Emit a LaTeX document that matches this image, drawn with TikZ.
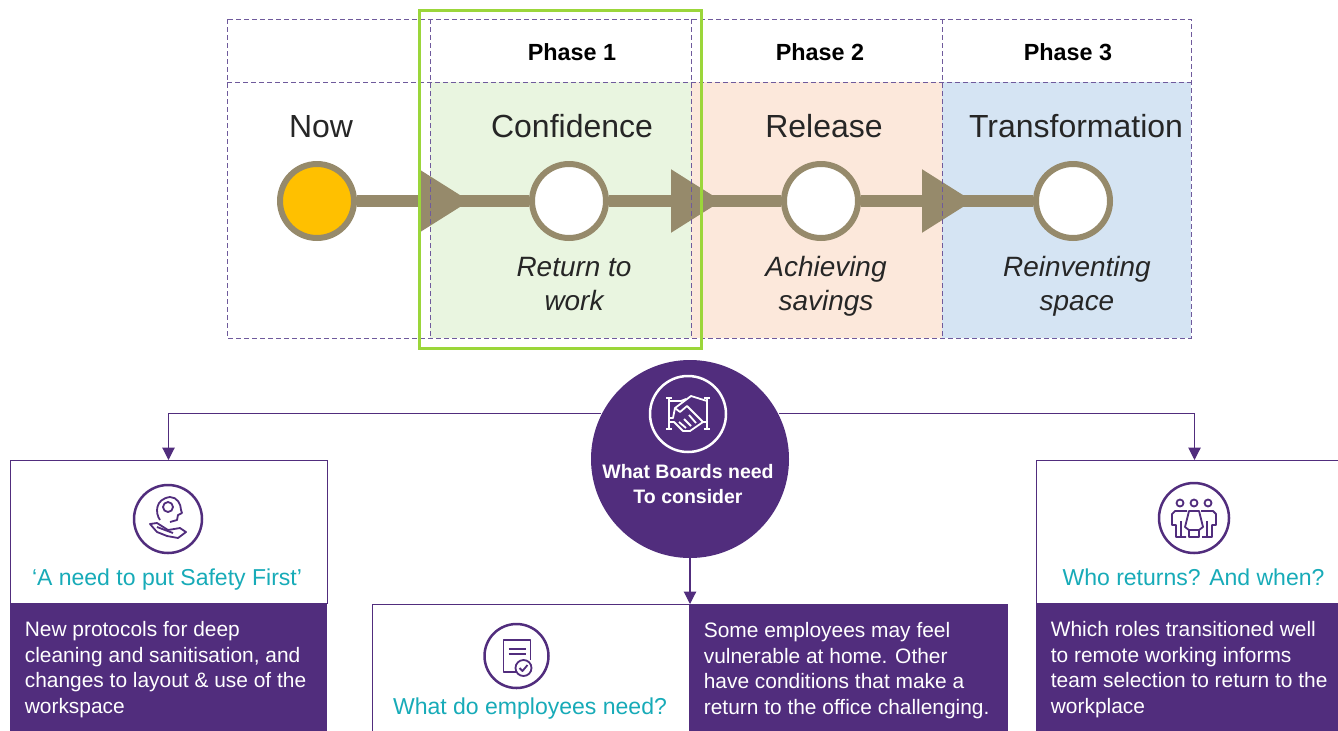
\documentclass[tikz,border=0pt]{standalone}
\usepackage{fontspec}
\setmainfont{Liberation Sans}
\usetikzlibrary{arrows.meta}
\definecolor{board}{HTML}{512D7D}
\definecolor{gridline}{HTML}{6F5A9C}
\definecolor{taupe}{HTML}{968A6B}
\definecolor{teal}{HTML}{17ABB8}
\definecolor{limebox}{HTML}{9BD63A}
\definecolor{darktext}{HTML}{262626}
\definecolor{amber}{HTML}{FFC000}
\definecolor{confbg}{HTML}{E9F5E0}
\definecolor{relbg}{HTML}{FCE8DB}
\definecolor{transbg}{HTML}{D5E4F3}
\tikzset{
  griddash/.style={draw=gridline,line width=0.02cm,dash pattern=on 0.1cm off 0.06cm},
  stage/.style={circle,draw=taupe,line width=0.12cm,minimum size=1.48cm,inner sep=0pt},
  flow/.style={draw=taupe,line width=0.24cm},
  flowtip/.style={flow,-{Triangle[length=1.02cm,width=1.2cm,fill=taupe]}},
  phase/.style={font=\fontsize{13.3}{16}\selectfont\bfseries,text=black},
  title/.style={font=\fontsize{18.2}{22}\selectfont,text=darktext,text height=0.48cm},
  note/.style={font=\fontsize{15.9}{19.4}\selectfont\itshape,text=darktext,align=center},
  conn/.style={draw=board,line width=0.022cm},
  conntip/.style={conn,-{Triangle[length=0.25cm,width=0.25cm]}},
  headbox/.style={rectangle,draw=board,line width=0.018cm,fill=white,anchor=north west,inner sep=0pt,outer sep=0pt},
  panel/.style={rectangle,fill=board,anchor=north west,inner sep=0pt,outer sep=0pt,minimum height=2.66cm},
  paneltxt/.style={text=white,anchor=west,inner xsep=0.29cm,inner ysep=0pt,align=left,font=\fontsize{11.9}{14.5}\selectfont},
  head/.style={font=\fontsize{13.1}{16}\selectfont,text=teal,text height=0.36cm,text depth=0.1cm},
  ring/.style={circle,draw=board,line width=0.05cm,inner sep=0pt},
  icon/.style={draw=board,line width=0.036cm,line join=round,x=0.02cm,y=-0.02cm},
}
\begin{document}
\begin{tikzpicture}
\useasboundingbox (0cm,0cm) rectangle (26.76cm,-14.6cm);
\fill[confbg] (8.6cm,-1.64cm) rectangle (13.82cm,-6.76cm);
\fill[relbg] (13.82cm,-1.64cm) rectangle (18.84cm,-6.76cm);
\fill[transbg] (18.84cm,-1.64cm) rectangle (23.82cm,-6.76cm);
\node[stage,fill=amber] (now) at (6.34cm,-4.02cm) {};
\node[stage,fill=white] (conf) at (11.38cm,-4.02cm) {};
\node[stage,fill=white] (rel) at (16.42cm,-4.02cm) {};
\node[stage,fill=white] (trans) at (21.46cm,-4.02cm) {};
\coordinate (tip1) at (9.4cm,-4.02cm);
\coordinate (tip2) at (14.44cm,-4.02cm);
\coordinate (tip3) at (19.46cm,-4.02cm);
\draw[flow] (now) -- (conf);
\draw[flowtip] (now) -- (tip1);
\draw[flow] (conf) -- (rel);
\draw[flowtip] (conf) -- (tip2);
\draw[flow] (rel) -- (trans);
\draw[flowtip] (rel) -- (tip3);
\draw[griddash] (4.54cm,-0.38cm) rectangle (23.82cm,-6.76cm);
\draw[griddash] (4.54cm,-1.64cm) -- (23.82cm,-1.64cm);
\draw[griddash] (8.6cm,-0.38cm) -- (8.6cm,-6.76cm);
\draw[griddash] (13.82cm,-0.38cm) -- (13.82cm,-6.76cm);
\draw[griddash] (18.84cm,-0.38cm) -- (18.84cm,-6.76cm);
\draw[limebox,line width=0.06cm] (8.38cm,-0.2cm) rectangle (14.02cm,-6.96cm);
\node[phase] (ph1) at (11.44cm,-1.04cm) {Phase 1};
\node[phase] (ph2) at (16.4cm,-1.04cm) {Phase 2};
\node[phase] (ph3) at (21.36cm,-1.04cm) {Phase 3};
\node[title] (tnow) at (6.42cm,-2.52cm) {Now};
\node[title] (tconf) at (11.44cm,-2.52cm) {Confidence};
\node[title] (trel) at (16.48cm,-2.52cm) {Release};
\node[title] (ttrans) at (21.52cm,-2.52cm) {Transformation};
\node[note] (nconf) at (11.48cm,-5.74cm) {\strut Return to\\\strut work};
\node[note] (nrel) at (16.52cm,-5.74cm) {\strut Achieving\\\strut savings};
\node[note] (ntrans) at (21.54cm,-5.74cm) {\strut Reinventing\\\strut space};
\node[headbox,minimum width=6.34cm,minimum height=2.86cm] (safety) at (0.2cm,-9.2cm) {};
\node[panel,minimum width=6.34cm] (safetypanel) at (0.2cm,-12.06cm) {};
\node[paneltxt] (safetytxt) at (safetypanel.west) {New protocols for deep\\cleaning and sanitisation, and\\changes to layout \& use of the\\workspace};
\node[headbox,minimum width=6.36cm,minimum height=2.8cm] (emp) at (7.44cm,-12.08cm) {};
\node[panel,minimum width=6.38cm] (emppanel) at (13.78cm,-12.08cm) {};
\node[paneltxt] (emptxt) at (emppanel.west) {Some employees may feel\\vulnerable at home. Other\\have conditions that make a\\return to the office challenging.};
\node[headbox,minimum width=6.34cm,minimum height=2.86cm] (who) at (20.72cm,-9.2cm) {};
\node[panel,minimum width=6.34cm] (whopanel) at (20.72cm,-12.06cm) {};
\node[paneltxt] (whotxt) at (whopanel.west) {Which roles transitioned well\\to remote working informs\\team selection to return to the\\workplace};
\node[circle,fill=board,minimum size=3.96cm,inner sep=0pt] (boards) at (13.8cm,-9.18cm) {};
\draw[conntip] (boards.153) -| (safety.north);
\draw[conntip] (boards.27) -| (who.north);
\draw[conntip] (boards.south) -- (boards.south |- emp.north);
\node[ring,draw=white,minimum size=1.52cm] (boardring) at (13.76cm,-8.28cm) {};
\node[text=white,align=center,font=\fontsize{11.1}{13.7}\selectfont\bfseries] (boardtxt) at (13.76cm,-9.68cm) {What Boards need\\To consider};
\begin{scope}[shift={(boardring.center)},icon,draw=white]
\draw (-19,-16) -- (-19,15) (-22,-16) -- (-16,-16) (-22,15) -- (-16,15);
\draw (19,-16) -- (19,15) (16,-16) -- (22,-16) (16,15) -- (22,15);
\draw (-19,-13) -- (-7,-13) -- (-2,-15);
\draw (19,-13) -- (3,-18) -- (-13,-6) -- (-8,-2) -- (-1,-8) -- (15,8) -- (19,8);
\draw (-19,8) -- (-14,8) -- (-5,17) -- (2,17) -- (15,8);
\draw (-19,4) -- (-15,4) -- (-13,-6);
\draw (-9,8) -- (-2,14) (-4,5) -- (3,12) (1,1) -- (8,9);
\end{scope}
\node[ring,minimum size=1.36cm] (safetyring) at (3.36cm,-10.38cm) {};
\begin{scope}[shift={(safetyring.center)},icon]
\draw (0,-12) circle (5);
\draw (-8,1) .. controls (-13,-6) and (-13,-20) .. (2,-22) .. controls (9,-22) and (13,-15) .. (13,-9) -- (14,-6) -- (10,-4) -- (9,1) -- (2,3);
\draw (-18,5) -- (-11,4) -- (0,11) -- (12,9) -- (18,13) -- (10,19) -- (-1,17) -- (-11,13) -- cycle;
\draw (-11,8) -- (5,14);
\end{scope}
\node[ring,minimum size=1.28cm] (empring) at (10.33cm,-13.12cm) {};
\begin{scope}[shift={(empring.center)},icon]
\draw (14,4) -- (14,-16) -- (-13,-16) -- (-13,16) -- (-1,16);
\draw (-8,-7) -- (9,-7) (-8,-2) -- (9,-2);
\draw (7,12) circle (8);
\draw (3,12) -- (6,15) -- (11,9);
\end{scope}
\node[ring,minimum size=1.4cm] (whoring) at (23.88cm,-10.36cm) {};
\begin{scope}[shift={(whoring.center)},icon]
\draw (-14,-15) circle (3.5) (0,-15) circle (3.5) (14,-15) circle (3.5);
\draw (-7,-7) -- (-19,-7) -- (-22,-4) -- (-22,7) -- (-18,7) -- (-18,19) -- (-8,19);
\draw (7,-7) -- (19,-7) -- (22,-4) -- (22,7) -- (18,7) -- (18,19) -- (8,19);
\draw (-13,3) -- (-13,19) (13,3) -- (13,19);
\draw (-5,-7) -- (5,-7) -- (9,9) -- (5,12) -- (5,19) -- (-5,19) -- (-5,12) -- (-9,9) -- cycle;
\draw (-5,12) -- (5,12);
\end{scope}
\node[head] (safetyhead) at (3.34cm,-11.57cm) {‘A need to put Safety First’};
\node[head] (emphead) at (10.6cm,-14.15cm) {What do employees need?};
\node[head] (whohead) at (23.87cm,-11.57cm) {Who returns? And when?};
\end{tikzpicture}
\end{document}
